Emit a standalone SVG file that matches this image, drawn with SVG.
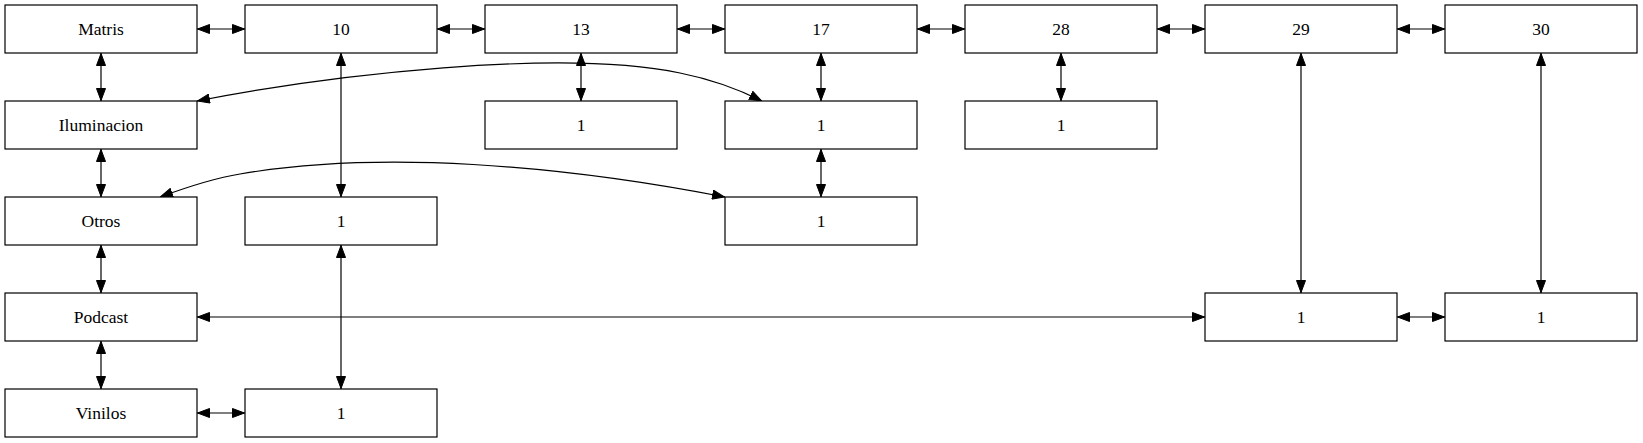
<svg xmlns="http://www.w3.org/2000/svg" width="1643" height="443" viewBox="0 0 1643 443">
<style>
.n rect{fill:#fff;stroke:#000;stroke-width:1.2}
.n text{font-family:"Liberation Serif","Times New Roman",serif;font-size:17.5px;text-anchor:middle;fill:#000}
.e path{fill:none;stroke:#000;stroke-width:1.2;marker-start:url(#a);marker-end:url(#a)}
</style>
<defs>
<marker id="a" markerUnits="userSpaceOnUse" markerWidth="13" markerHeight="10" refX="13" refY="5" orient="auto-start-reverse" viewBox="0 0 13 10"><path d="M0.5,0.5 L12.5,5 L0.5,9.5 z" fill="#000" stroke="#000" stroke-width="1"/></marker>
</defs>
<rect width="1643" height="443" fill="#fff"/>
<g class="e" id="connectors">
<path d="M197,29 H245"/>
<path d="M437,29 H485"/>
<path d="M677,29 H725"/>
<path d="M917,29 H965"/>
<path d="M1157,29 H1205"/>
<path d="M1397,29 H1445"/>
<path d="M101,53 V101"/>
<path d="M101,149 V197"/>
<path d="M101,245 V293"/>
<path d="M101,341 V389"/>
<path d="M197,413 H245"/>
<path d="M341,53 V197"/>
<path d="M341,245 V389"/>
<path d="M581,53 V101"/>
<path d="M821,53 V101"/>
<path d="M821,149 V197"/>
<path d="M1061,53 V101"/>
<path d="M1301,53 V293"/>
<path d="M1541,53 V293"/>
<path d="M197,317 H1205"/>
<path d="M1397,317 H1445"/>
<path d="M197,101 C330,75 560,48 680,73 C710,79 740,90 762,101"/>
<path d="M160,197 C190,186 215,178 240,174 C380,150 560,165 725,197"/>
</g>
<g class="n" id="matris"><rect x="5" y="5" width="192" height="48"/><text x="101" y="35">Matris</text></g>
<g class="n" id="n10"><rect x="245" y="5" width="192" height="48"/><text x="341" y="35">10</text></g>
<g class="n" id="n13"><rect x="485" y="5" width="192" height="48"/><text x="581" y="35">13</text></g>
<g class="n" id="n17"><rect x="725" y="5" width="192" height="48"/><text x="821" y="35">17</text></g>
<g class="n" id="n28"><rect x="965" y="5" width="192" height="48"/><text x="1061" y="35">28</text></g>
<g class="n" id="n29"><rect x="1205" y="5" width="192" height="48"/><text x="1301" y="35">29</text></g>
<g class="n" id="n30"><rect x="1445" y="5" width="192" height="48"/><text x="1541" y="35">30</text></g>
<g class="n" id="iluminacion"><rect x="5" y="101" width="192" height="48"/><text x="101" y="131">Iluminacion</text></g>
<g class="n" id="n13_1"><rect x="485" y="101" width="192" height="48"/><text x="581" y="131">1</text></g>
<g class="n" id="n17_1"><rect x="725" y="101" width="192" height="48"/><text x="821" y="131">1</text></g>
<g class="n" id="n28_1"><rect x="965" y="101" width="192" height="48"/><text x="1061" y="131">1</text></g>
<g class="n" id="otros"><rect x="5" y="197" width="192" height="48"/><text x="101" y="227">Otros</text></g>
<g class="n" id="n10_1"><rect x="245" y="197" width="192" height="48"/><text x="341" y="227">1</text></g>
<g class="n" id="n17_2"><rect x="725" y="197" width="192" height="48"/><text x="821" y="227">1</text></g>
<g class="n" id="podcast"><rect x="5" y="293" width="192" height="48"/><text x="101" y="323">Podcast</text></g>
<g class="n" id="n29_1"><rect x="1205" y="293" width="192" height="48"/><text x="1301" y="323">1</text></g>
<g class="n" id="n30_1"><rect x="1445" y="293" width="192" height="48"/><text x="1541" y="323">1</text></g>
<g class="n" id="vinilos"><rect x="5" y="389" width="192" height="48"/><text x="101" y="419">Vinilos</text></g>
<g class="n" id="n10_2"><rect x="245" y="389" width="192" height="48"/><text x="341" y="419">1</text></g>
</svg>
